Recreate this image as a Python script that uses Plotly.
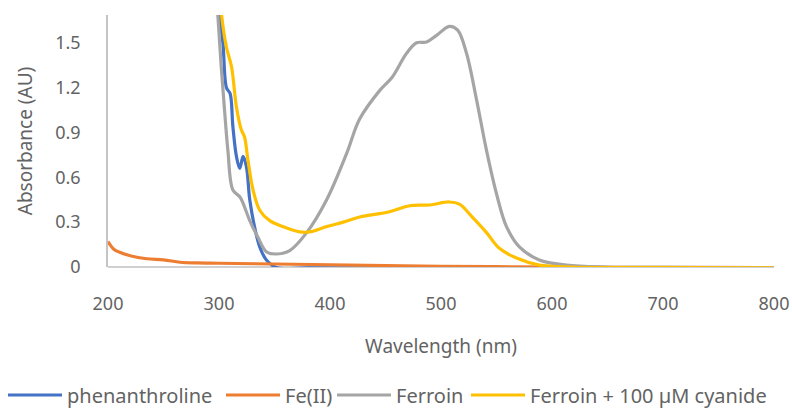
import plotly.graph_objects as go

# phenanthroline
phen_x = [299, 303.5, 306.7, 310, 312.5, 315.7, 318.7, 321.7, 324.7, 327.7, 332, 336.7, 342.7, 351.7, 380, 450, 550, 650, 800]
phen_y = [1.75, 1.50, 1.20, 1.16, 0.94, 0.74, 0.66, 0.74, 0.67, 0.45, 0.27, 0.134, 0.047, -0.003, -0.006, -0.007, -0.007, -0.007, -0.007]

# Fe(II)
fe_x = [200, 205, 210, 220, 235, 250, 265, 280, 300, 350, 400, 450, 500, 550, 600, 700, 800]
fe_y = [0.17, 0.12, 0.10, 0.075, 0.055, 0.048, 0.032, 0.027, 0.025, 0.02, 0.015, 0.01, 0.005, 0.002, 0.0, -0.003, -0.004]

# Ferroin
ferroin_x = [297, 299, 302, 305, 308, 312.5, 318.7, 321.5, 327.7, 335, 343, 352, 363.7, 379, 397, 415, 426.7,
             444.7, 456, 469, 478, 487, 496, 507.6, 515, 523, 532, 541, 550, 559, 570.6, 588.6, 613, 649, 700, 800]
ferroin_y = [1.85, 1.68, 1.34, 1.05, 0.78, 0.515, 0.47, 0.43, 0.31, 0.20, 0.10, 0.087, 0.11, 0.23, 0.45, 0.76, 0.99,
             1.18, 1.27, 1.43, 1.50, 1.505, 1.55, 1.61, 1.585, 1.43, 1.12, 0.78, 0.49, 0.27, 0.134, 0.047, 0.013, 0.0, -0.003, -0.004]

# Ferroin + 100 µM cyanide
cn_x = [301, 302.3, 306.7, 311.3, 315.7, 320, 323, 326, 330.7, 336.7, 345.7, 357.7, 372.7, 381.7, 396.7, 412,
        426.7, 453.7, 471.7, 489.7, 507.6, 516.6, 528, 541, 552.6, 568, 588.6, 618, 700, 800]
cn_y = [1.80, 1.686, 1.47, 1.34, 1.07, 0.92, 0.87, 0.72, 0.515, 0.38, 0.31, 0.27, 0.235, 0.235, 0.27, 0.30,
        0.335, 0.37, 0.41, 0.415, 0.435, 0.42, 0.335, 0.23, 0.125, 0.06, 0.013, 0.0, -0.004, -0.005]

x_ticks = [200, 300, 400, 500, 600, 700, 800]
y_ticks = [0, 0.3, 0.6, 0.9, 1.2, 1.5]
y_labels = ["0", "0.3", "0.6", "0.9", "1.2", "1.5"]

series = [
    ("phenanthroline", phen_x, phen_y, "#4472C4", "legend2"),
    ("Fe(II)", fe_x, fe_y, "#ED7D31", "legend3"),
    ("Ferroin", ferroin_x, ferroin_y, "#A5A5A5", "legend4"),
    ("Ferroin + 100 µM cyanide", cn_x, cn_y, "#FFC000", "legend5"),
]
# left edge (px) of each legend entry
legend_left = [3, 221, 332, 466]

fig = go.Figure()
for name, xs, ys, col, lg in series:
    fig.add_trace(go.Scatter(x=xs, y=ys, name=name, mode="lines", legend=lg, showlegend=True,
                             line=dict(color=col, width=3.2, shape="spline", smoothing=1.0)))

font_family = "Noto Sans"
txt = "#636363"
W, H = 792, 408


def legend_cfg(i):
    return dict(orientation="h", xref="container", yref="container", xanchor="left",
                x=legend_left[i] / W, y=(H - 395) / H, yanchor="middle",
                font=dict(size=20, color=txt),
                itemwidth=54, bgcolor="rgba(0,0,0,0)", visible=True)


fig.update_layout(
    width=W, height=H,
    showlegend=True,
    margin=dict(l=108, r=18, t=15, b=141, autoexpand=False),
    paper_bgcolor="white", plot_bgcolor="white",
    font=dict(family=font_family, size=18, color=txt),
    legend2=legend_cfg(0),
    legend3=legend_cfg(1),
    legend4=legend_cfg(2),
    legend5=legend_cfg(3),
    xaxis=dict(range=[200, 800], tickvals=x_ticks, showgrid=False, zeroline=False,
               showline=False, ticks="outside", ticklen=20, tickcolor="rgba(0,0,0,0)",
               title=dict(text="Wavelength (nm)", standoff=26, font=dict(size=19))),
    yaxis=dict(range=[0, 1.686], tickvals=y_ticks, ticktext=y_labels, showgrid=False,
               zeroline=True, zerolinecolor="#D0D0D0", zerolinewidth=1.5,
               showline=True, linecolor="#C4C4C4", linewidth=1.5,
               ticks="outside", ticklen=22, tickcolor="rgba(0,0,0,0)",
               title=dict(text="Absorbance (AU)", standoff=18, font=dict(size=19))),
)

fig.write_html("out.html")
